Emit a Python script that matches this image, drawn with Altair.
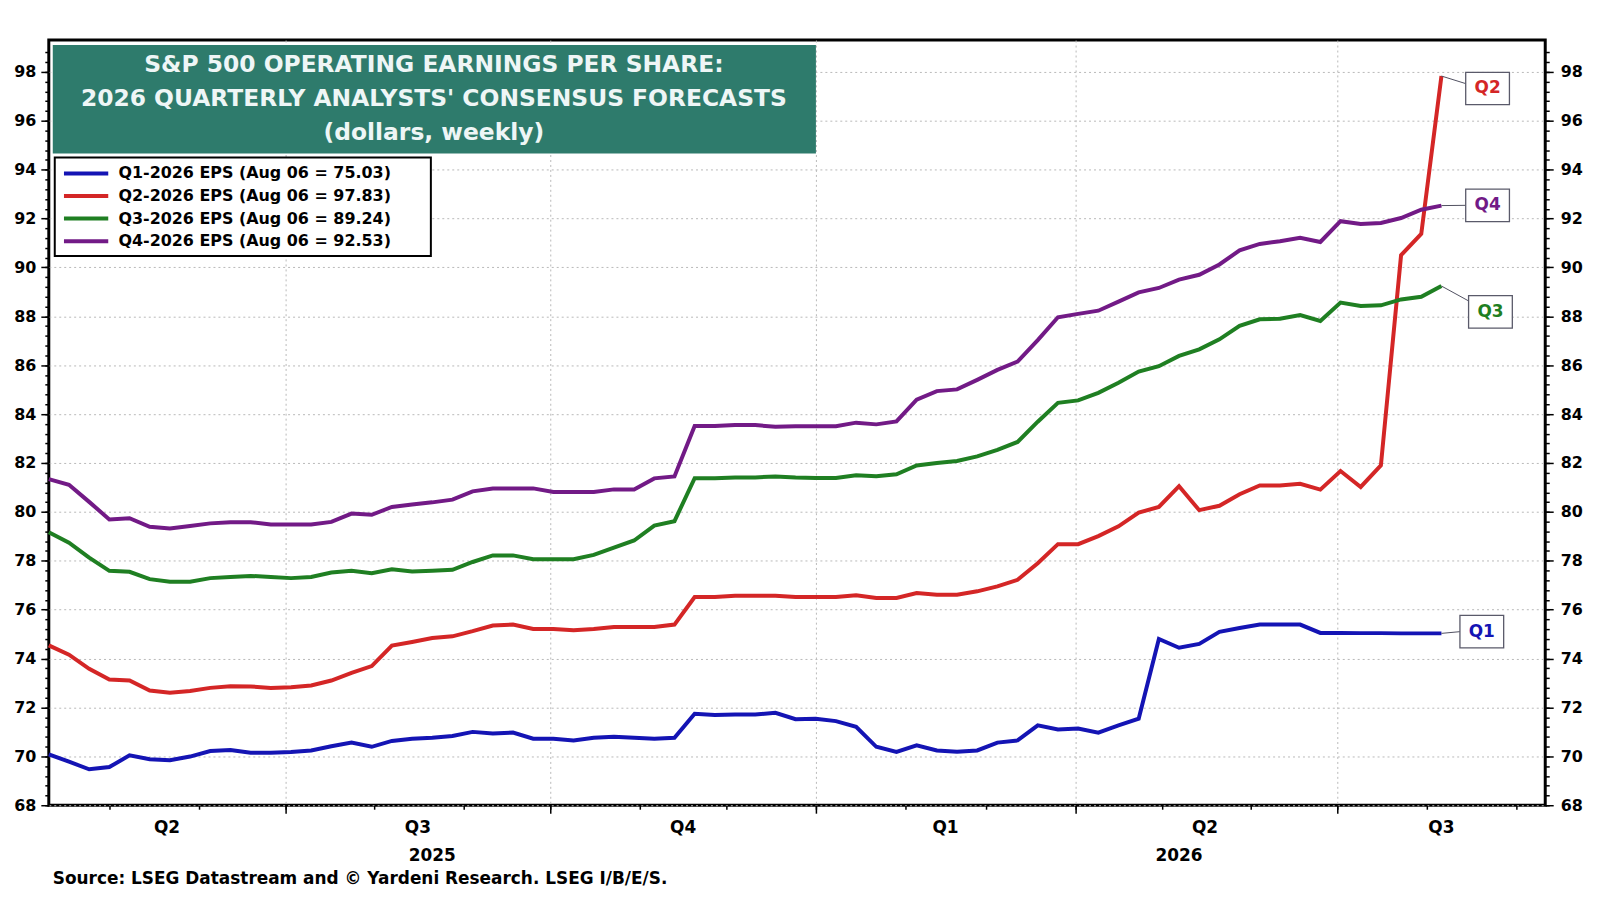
import altair as alt
import numpy as np
import pandas as pd

# weekly consensus estimates (Thursdays), first week 2025-04-10, last 2026-08-06
first_week = "2025-04-10"

q1_eps = [70.08, 69.78, 69.47, 69.56, 70.04, 69.88, 69.84, 69.99, 70.22, 70.26,
          70.15, 70.15, 70.18, 70.24, 70.41, 70.56, 70.39, 70.63, 70.72, 70.76,
          70.83, 71.00, 70.93, 70.97, 70.72, 70.72, 70.65, 70.76, 70.80, 70.76,
          70.72, 70.76, 71.74, 71.69, 71.71, 71.71, 71.78, 71.52, 71.54, 71.44,
          71.21, 70.39, 70.18, 70.45, 70.24, 70.19, 70.24, 70.56, 70.65, 71.27,
          71.10, 71.14, 70.97, 71.27, 71.54, 74.80, 74.44, 74.60, 75.09, 75.25,
          75.39, 75.39, 75.39, 75.05, 75.05, 75.04, 75.04, 75.03, 75.03, 75.03]

q2_eps = [74.54, 74.16, 73.58, 73.14, 73.10, 72.69, 72.60, 72.67, 72.80, 72.87,
          72.86, 72.80, 72.83, 72.90, 73.10, 73.41, 73.69, 74.53, 74.68, 74.84,
          74.91, 75.12, 75.35, 75.39, 75.21, 75.21, 75.16, 75.21, 75.29, 75.29,
          75.29, 75.39, 76.52, 76.52, 76.57, 76.57, 76.57, 76.52, 76.52, 76.52,
          76.59, 76.48, 76.48, 76.68, 76.61, 76.61, 76.75, 76.95, 77.22, 77.90,
          78.68, 78.68, 79.01, 79.41, 79.97, 80.20, 81.05, 80.07, 80.25, 80.72,
          81.08, 81.08, 81.15, 80.91, 81.67, 81.02, 81.90, 90.50, 91.37, 97.83]

q3_eps = [79.17, 78.74, 78.13, 77.59, 77.55, 77.25, 77.14, 77.14, 77.29, 77.34,
          77.38, 77.34, 77.29, 77.34, 77.52, 77.59, 77.49, 77.65, 77.56, 77.59,
          77.63, 77.95, 78.22, 78.22, 78.06, 78.06, 78.06, 78.24, 78.54, 78.83,
          79.44, 79.62, 81.38, 81.38, 81.41, 81.41, 81.45, 81.41, 81.39, 81.39,
          81.50, 81.46, 81.54, 81.90, 82.00, 82.08, 82.27, 82.54, 82.86, 83.69,
          84.46, 84.56, 84.87, 85.28, 85.74, 85.96, 86.38, 86.65, 87.06, 87.61,
          87.88, 87.90, 88.05, 87.81, 88.56, 88.42, 88.45, 88.69, 88.80, 89.24]

q4_eps = [81.34, 81.11, 80.41, 79.69, 79.74, 79.39, 79.32, 79.42, 79.53, 79.58,
          79.58, 79.48, 79.48, 79.48, 79.59, 79.93, 79.88, 80.20, 80.30, 80.39,
          80.50, 80.84, 80.96, 80.96, 80.96, 80.81, 80.81, 80.81, 80.92, 80.92,
          81.37, 81.45, 83.51, 83.51, 83.55, 83.55, 83.48, 83.50, 83.50, 83.50,
          83.65, 83.58, 83.70, 84.59, 84.94, 85.01, 85.40, 85.81, 86.15, 87.03,
          87.96, 88.10, 88.23, 88.60, 88.98, 89.16, 89.50, 89.70, 90.12, 90.70,
          90.96, 91.07, 91.21, 91.04, 91.89, 91.78, 91.82, 92.02, 92.36, 92.53]

series_names = [
    "Q1-2026 EPS (Aug 06 = 75.03)",
    "Q2-2026 EPS (Aug 06 = 97.83)",
    "Q3-2026 EPS (Aug 06 = 89.24)",
    "Q4-2026 EPS (Aug 06 = 92.53)",
]
end_tags = ["Q1", "Q2", "Q3", "Q4"]
series_colors = ["#1414b4", "#d42626", "#1f7f22", "#721a86"]

title_lines = [
    "S&P 500 OPERATING EARNINGS PER SHARE:",
    "2026 QUARTERLY ANALYSTS' CONSENSUS FORECASTS",
    "(dollars, weekly)",
]
source_note = "Source: LSEG Datastream and \u00a9 Yardeni Research. LSEG I/B/E/S."

FONT = "DejaVu Sans"
W, H = 1504, 769
X_LO, X_HI = pd.Timestamp("2025-04-10"), pd.Timestamp("2026-09-11")

# ---- data frames
dates = pd.date_range(first_week, periods=len(q1_eps), freq="7D")
all_series = [q1_eps, q2_eps, q3_eps, q4_eps]
frames = []
for name, vals in zip(series_names, all_series):
    frames.append(pd.DataFrame({"date": dates.strftime("%Y-%m-%d"),
                                "series": name, "value": vals}))
df = pd.concat(frames, ignore_index=True)

# end-of-line tag boxes (placement tweaks per tag)
tag_days = {"Q1": 14, "Q2": 16, "Q3": 17, "Q4": 16}
tag_shift = {"Q1": 0.07, "Q2": -0.51, "Q3": -1.06, "Q4": 0.01}
conn_shift = {"Q1": 0.0, "Q2": 0.2, "Q3": 0.45, "Q4": 0.0}
tags = pd.DataFrame({
    "tag": end_tags,
    "color": series_colors,
    "date": dates[-1].strftime("%Y-%m-%d"),
    "value": [s[-1] for s in all_series],
})
tags["tag_date"] = [(dates[-1] + pd.Timedelta(days=tag_days[t])).strftime("%Y-%m-%d")
                    for t in end_tags]
tags["tag_y"] = [v + tag_shift[t] for t, v in zip(tags["tag"], tags["value"])]
tags["conn_y"] = [y + conn_shift[t] for t, y in zip(tags["tag"], tags["tag_y"])]


# quarter / year labels centred on the visible part of each period
def centred(starts, ends, names):
    rows = []
    for s, e, n in zip(starts, ends, names):
        lo, hi = max(pd.Timestamp(s), X_LO), min(pd.Timestamp(e), X_HI)
        rows.append({"label": n, "mid": (lo + (hi - lo) / 2).strftime("%Y-%m-%d")})
    return pd.DataFrame(rows)


q_starts = pd.date_range("2025-04-01", periods=6, freq="QS")
quarters = centred(q_starts, q_starts + pd.offsets.QuarterBegin(startingMonth=1),
                   [f"Q{d.quarter}" for d in q_starts])
years = centred(["2025-01-01", "2026-01-01"], ["2026-01-01", "2027-01-01"], ["2025", "2026"])


# ---- scales and axes
def dt(ts):
    return alt.DateTime(year=ts.year, month=ts.month, date=ts.day, utc=True)


x_scale = alt.Scale(type="utc", domain=[dt(X_LO), dt(X_HI)])
y_scale = alt.Scale(domain=[68, 99.3], nice=False, zero=False)

month_ticks = [dt(d) for d in pd.date_range("2025-05-01", "2026-09-01", freq="MS")]
quarter_ticks = [dt(d) for d in pd.date_range("2025-07-01", "2026-07-01", freq="QS")]
major_y = list(range(68, 99, 2))
minor_y = [round(v, 1) for v in np.arange(68, 99.2, 0.4)]

grid_style = dict(grid=True, gridColor="#b8b8b8", gridDash=[2, 3], gridWidth=1)
common = dict(domain=False, title=None, tickColor="black", tickWidth=1.5,
              labelFont=FONT, labelFontSize=16, labelFontWeight="bold",
              labelColor="black")


def carrier(x_axis, y_axis):
    return alt.Chart(df).mark_point(opacity=0).encode(
        x=alt.X("date:T", scale=x_scale, axis=x_axis),
        y=alt.Y("value:Q", scale=y_scale, axis=y_axis),
    )


axes_layers = [
    carrier(alt.Axis(orient="bottom", values=month_ticks, tickSize=4, labels=False,
                     grid=False, **common),
            alt.Axis(orient="left", values=major_y, tickSize=8, labelPadding=5,
                     **grid_style, **common)),
    carrier(alt.Axis(orient="bottom", values=quarter_ticks, tickSize=8, labels=False,
                     **grid_style, **common),
            alt.Axis(orient="left", values=minor_y, tickSize=4, labels=False,
                     grid=False, **common)),
    carrier(None, alt.Axis(orient="right", values=major_y, tickSize=8, labelPadding=7,
                           grid=False, **common)),
    carrier(None, alt.Axis(orient="right", values=minor_y, tickSize=4, labels=False,
                           grid=False, **common)),
]

one = pd.DataFrame({"k": [0]})

title_box = alt.Chart(one).mark_rect(color="#2e7b6c").encode(
    x=alt.value(4), x2=alt.value(771), y=alt.value(5), y2=alt.value(114))

title_text = alt.Chart(one).mark_text(
    text=title_lines, font=FONT, fontSize=23.5, fontWeight="bold", color="#eef6f6",
    align="center", baseline="middle", lineHeight=34.2,
).encode(x=alt.value(387), y=alt.value(25.5))

# frame behind the legend entries
legend_box = alt.Chart(one).mark_rect(fill="white", stroke="black", strokeWidth=2).encode(
    x=alt.value(6), x2=alt.value(384), y=alt.value(118), y2=alt.value(217))

lines = alt.Chart(df).mark_line(strokeWidth=4).encode(
    x=alt.X("date:T", scale=x_scale, axis=None),
    y=alt.Y("value:Q", scale=y_scale, axis=None),
    color=alt.Color(
        "series:N",
        scale=alt.Scale(domain=series_names, range=series_colors),
        legend=alt.Legend(
            title=None, orient="none", legendX=6, legendY=118,
            symbolType="stroke", symbolSize=1980, symbolStrokeWidth=4,
            symbolOpacity=1, clipHeight=18, rowPadding=4.7, padding=7,
            labelFont=FONT, labelFontSize=16, labelFontWeight="bold",
            labelColor="black", labelOffset=8, labelLimit=600,
        ),
    ),
    detail="series:N",
)

connectors = alt.Chart(tags).mark_rule(color="#505060", strokeWidth=1, x2Offset=-22).encode(
    x=alt.X("date:T", scale=x_scale, axis=None),
    y=alt.Y("value:Q", scale=y_scale, axis=None),
    x2="tag_date:T",
    y2="conn_y:Q",
)

box_path = "M-1.35,-1 L1.35,-1 L1.35,1 L-1.35,1 Z"
boxes = alt.Chart(tags).mark_point(
    shape=box_path, size=1060, filled=True, fill="white", stroke="#5a5a6a",
    strokeWidth=1.3, opacity=1,
).encode(
    x=alt.X("tag_date:T", scale=x_scale, axis=None),
    y=alt.Y("tag_y:Q", scale=y_scale, axis=None),
)

tag_text = alt.Chart(tags).mark_text(font=FONT, fontSize=17, fontWeight="bold").encode(
    x=alt.X("tag_date:T", scale=x_scale, axis=None),
    y=alt.Y("tag_y:Q", scale=y_scale, axis=None),
    text="tag:N",
    color=alt.Color("color:N", scale=None),
)

q_labels = alt.Chart(quarters).mark_text(
    font=FONT, fontSize=17, fontWeight="bold", color="black", baseline="middle",
).encode(x=alt.X("mid:T", scale=x_scale, axis=None), y=alt.value(H + 23), text="label:N")

y_labels = alt.Chart(years).mark_text(
    font=FONT, fontSize=17, fontWeight="bold", color="black", baseline="middle",
).encode(x=alt.X("mid:T", scale=x_scale, axis=None), y=alt.value(H + 51), text="label:N")

source = alt.Chart(one).mark_text(
    text=source_note, font=FONT, fontSize=17, fontWeight="bold", color="black",
    align="left", baseline="middle",
).encode(x=alt.value(4), y=alt.value(H + 74))

chart = alt.layer(
    *axes_layers, title_box, title_text, legend_box, lines, connectors, boxes,
    tag_text, q_labels, y_labels, source,
).resolve_axis(
    x="independent", y="independent"
).properties(
    width=W, height=H,
    autosize=alt.AutoSizeParams(type="none"),
    padding={"left": 41, "top": 30, "right": 47, "bottom": 93},
    background="white",
).configure_view(
    stroke="black", strokeWidth=3
)

chart.save("out.html", embed_options={"renderer": "svg", "actions": False})
